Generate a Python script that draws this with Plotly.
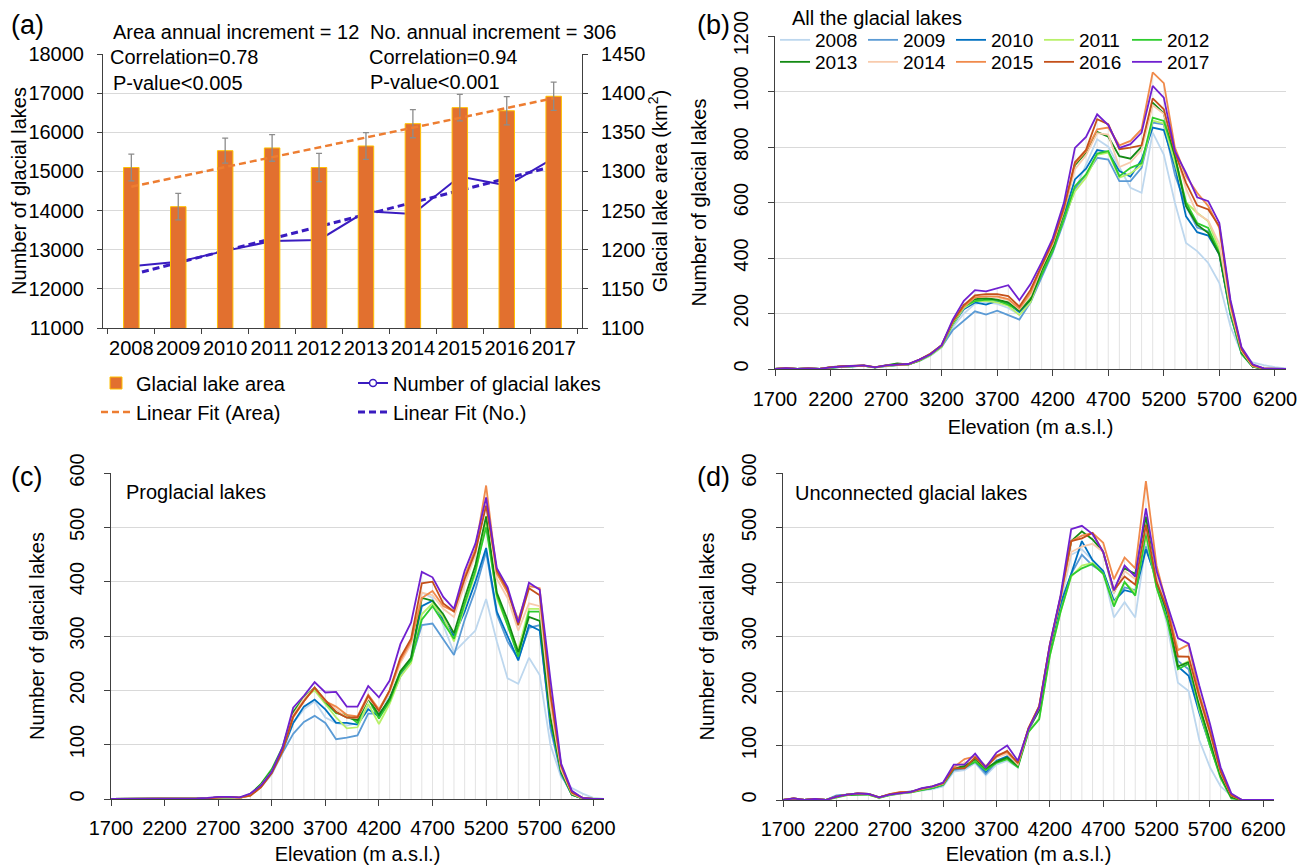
import numpy as np
import plotly.graph_objects as go

# ---------------- Panel (a) data ----------------
years = ['2008', '2009', '2010', '2011', '2012', '2013', '2014', '2015', '2016', '2017']
area_km2 = [1305, 1255, 1326.5, 1330, 1305, 1332.5, 1361, 1381.5, 1377.5, 1396]
area_err = [17, 17, 16, 17, 18, 17, 18, 17, 18, 18]
lake_count = [12580, 12690, 12970, 13220, 13250, 13980, 13910, 14870, 14640, 15340]

# ---------------- Elevation bins ----------------
elev = [1700, 1800, 1900, 2000, 2100, 2200, 2300, 2400, 2500, 2600, 2700, 2800, 2900,
        3000, 3100, 3200, 3300, 3400, 3500, 3600, 3700, 3800, 3900, 4000, 4100, 4200,
        4300, 4400, 4500, 4600, 4700, 4800, 4900, 5000, 5100, 5200, 5300, 5400, 5500,
        5600, 5700, 5800, 5900, 6000, 6100, 6200, 6300]
elev_ticks = [1700, 2200, 2700, 3200, 3700, 4200, 4700, 5200, 5700, 6200]

# ---------------- Panel (b): all glacial lakes ----------------
all_2008 = [0,2,0,1,0,8,10,10,11,7,10,14,18, 28,48,78,150,200,235,240,235,220,195,238,340,425,540,645,735,828,801,725,653,635,852,773,599,454,425,382,310,153,57,24,14,7,2]
all_2009 = [0,3,0,2,0,6,9,10,12,6,11,15,17, 30,50,80,140,175,208,196,210,194,178,240,330,420,530,650,700,761,755,677,677,725,888,882,700,587,510,496,418,200,60,10,2,0,0]
all_2010 = [0,2,0,2,0,5,8,10,12,6,12,14,16, 32,52,82,160,215,240,232,245,235,205,245,345,430,550,683,722,789,782,713,693,755,870,861,731,550,493,481,412,195,55,8,1,0,0]
all_2011 = [0,3,0,1,0,6,9,11,12,6,12,15,17, 30,50,80,160,220,245,245,240,228,195,240,345,430,540,640,690,772,780,690,705,735,895,885,740,600,563,532,430,205,60,10,1,0,0]
all_2012 = [0,2,0,2,0,5,8,10,11,5,11,14,16, 30,52,82,165,225,245,250,248,232,212,255,340,425,540,659,701,776,785,695,725,741,906,894,767,600,526,508,418,200,55,8,1,0,0]
all_2013 = [0,3,0,2,0,6,9,10,12,6,12,20,17, 32,55,85,168,230,252,255,250,240,210,250,355,440,565,735,780,854,837,767,758,801,960,922,767,587,520,490,412,210,60,8,1,0,0]
all_2014 = [0,3,0,2,0,6,9,10,12,6,12,15,17, 33,55,85,170,225,258,262,258,248,215,265,365,450,570,720,770,850,845,728,745,790,950,920,790,650,560,535,450,215,65,10,2,0,0]
all_2015 = [0,3,0,2,0,6,9,10,12,6,12,15,17, 33,55,85,170,225,258,262,262,252,218,275,370,455,575,740,785,864,870,806,822,864,1069,1030,798,695,635,587,508,230,70,12,2,0,0]
all_2016 = [0,3,0,2,0,7,10,11,13,7,13,16,18, 34,55,86,172,230,265,270,270,263,225,285,375,460,580,745,790,900,882,792,798,806,975,936,780,671,590,575,514,240,72,14,2,0,0]
all_2017 = [0,3,0,2,0,6,9,11,13,6,13,16,18, 34,53,86,178,246,284,280,290,302,248,306,384,471,598,797,836,918,879,797,810,852,1020,978,785,707,619,605,526,249,78,17,2,0,0]

# ---------------- Panel (c): proglacial lakes ----------------
pro_2008 = [0,0,0,0,0,0,0,0,0,1,3,3,2, 6,22,45,85,140,165,180,150,140,135,140,170,165,190,230,260,380,370,320,270,290,310,368,290,222,212,260,228,100,40,20,10,2,0]
pro_2009 = [0,0,0,0,0,0,0,0,0,1,2,3,2, 8,25,48,85,120,142,153,140,110,113,117,157,157,180,225,255,320,323,295,265,330,385,455,340,290,258,315,320,130,45,8,1,0,0]
pro_2010 = [0,0,0,0,0,0,0,0,0,1,3,3,2, 8,26,50,90,140,170,183,165,140,140,137,165,152,185,230,258,355,365,330,300,345,400,462,345,300,255,320,310,140,48,8,1,0,0]
pro_2011 = [0,0,0,0,0,0,0,0,0,1,2,2,2, 8,27,52,92,155,185,200,175,150,130,132,175,138,175,225,250,340,360,335,290,355,415,510,370,320,275,350,350,150,50,8,1,0,0]
pro_2012 = [0,0,0,0,0,0,0,0,0,1,3,3,2, 9,28,55,95,160,188,205,178,158,155,140,185,148,180,232,255,330,355,325,295,360,420,500,375,320,262,345,345,150,50,8,1,0,0]
pro_2013 = [0,0,0,0,0,0,0,0,0,1,3,3,2, 8,27,52,92,160,185,205,180,160,150,145,185,155,185,235,260,370,365,340,305,370,430,520,380,330,270,335,328,150,50,8,1,0,0]
pro_2014 = [0,0,0,0,0,0,0,0,0,1,3,3,2, 7,25,50,90,155,185,205,180,165,150,150,185,165,195,250,285,380,375,350,335,395,450,550,405,370,310,360,355,170,55,10,1,0,0]
pro_2015 = [0,0,0,0,0,0,0,0,0,1,3,4,2, 6,22,48,88,150,180,205,180,170,155,152,192,165,200,255,290,370,383,355,345,410,460,577,415,380,330,392,388,190,60,12,2,0,0]
pro_2016 = [0,0,0,0,0,0,0,0,0,1,3,4,3, 6,22,48,88,152,180,205,182,160,150,150,190,162,200,260,295,397,400,360,345,405,455,540,420,385,320,388,375,195,62,12,2,0,0]
pro_2017 = [0,0,0,0,0,0,0,0,1,2,4,4,3, 10,25,50,95,168,190,215,196,197,170,170,208,187,218,285,325,418,408,372,350,420,470,555,425,390,325,398,385,220,65,15,2,0,0]

# ---------------- Panel (d): unconnected glacial lakes ----------------
unc_2008 = [0,2,0,2,0,9,10,11,10,4,9,12,14, 18,20,25,52,55,68,45,65,72,60,125,170,280,360,450,460,440,420,335,363,335,470,400,320,215,200,110,60,25,8,0,0,0,0]
unc_2009 = [0,3,0,2,0,8,10,12,11,5,10,13,15, 18,22,27,55,58,70,48,70,78,62,128,165,270,355,415,450,430,418,365,390,385,465,400,335,255,240,165,100,45,8,0,0,0,0]
unc_2010 = [0,2,0,2,0,7,10,11,11,5,10,13,15, 19,22,28,57,60,72,52,72,80,63,130,168,275,360,415,475,440,420,365,385,380,460,405,340,245,228,160,100,45,8,0,0,0,0]
unc_2011 = [0,2,0,1,0,6,9,11,10,4,9,12,14, 19,23,28,58,62,72,55,70,75,63,125,150,265,345,410,430,435,415,360,400,380,485,390,330,245,255,165,100,42,5,0,0,0,0]
unc_2012 = [0,2,0,1,0,5,9,10,10,4,9,12,14, 18,22,28,58,60,70,55,68,75,60,125,148,265,345,412,425,433,415,355,400,375,490,390,330,240,250,170,100,40,3,0,0,0,0]
unc_2013 = [0,3,0,2,0,6,10,11,11,5,10,13,15, 20,24,30,58,62,75,58,70,78,63,130,165,280,370,475,493,478,455,380,425,415,520,400,345,245,253,175,110,45,5,0,0,0,0]
unc_2014 = [0,3,0,2,0,6,10,12,11,5,10,13,15, 20,24,30,60,68,78,60,78,85,65,130,170,283,370,455,465,470,455,380,420,405,500,410,350,265,262,185,120,50,8,0,0,0,0]
unc_2015 = [0,3,0,2,0,6,10,12,11,5,11,15,15, 21,25,31,60,75,80,62,82,88,68,132,172,285,372,475,485,490,472,405,445,425,585,430,355,275,285,195,130,55,10,0,0,0,0]
unc_2016 = [0,3,0,2,0,6,10,12,11,5,11,14,15, 21,25,31,58,58,78,60,80,90,68,132,172,285,372,475,480,490,455,385,410,395,505,400,350,263,263,190,125,52,8,0,0,0,0]
unc_2017 = [0,3,0,2,0,6,10,12,11,5,10,13,15, 22,25,32,65,65,85,60,87,100,72,130,170,285,375,497,503,488,455,385,430,410,535,420,360,297,287,210,140,60,12,0,0,0,0]

year_colors = ['#BDD7EE', '#5B9BD5', '#0070C0', '#B8F06A', '#2ECC2E',
               '#138A13', '#F8CBAD', '#F08A4B', '#C4501A', '#7020D0']

all_series = [all_2008, all_2009, all_2010, all_2011, all_2012,
              all_2013, all_2014, all_2015, all_2016, all_2017]
pro_series = [pro_2008, pro_2009, pro_2010, pro_2011, pro_2012,
              pro_2013, pro_2014, pro_2015, pro_2016, pro_2017]
unc_series = [unc_2008, unc_2009, unc_2010, unc_2011, unc_2012,
              unc_2013, unc_2014, unc_2015, unc_2016, unc_2017]

FONT = 'Liberation Sans, Arial, sans-serif'
FS = 20
OFF = 8                      # page body margin
W, H = 1309 - OFF, 865 - OFF


def px_x(p):
    return (p - OFF) / W


def px_y(p):
    return 1 - (p - OFF) / H


fig = go.Figure()

# ---------------- Panel (a) traces ----------------
fig.add_trace(go.Bar(
    x=years, y=area_km2, xaxis='x', yaxis='y2', width=0.33,
    marker=dict(color='#E2702F', line=dict(color='#FFC000', width=1)),
    error_y=dict(type='data', array=area_err, color='#8C8C8C', thickness=1.3, width=3),
    name='Glacial lake area', legend='legend'))

fig.add_trace(go.Scatter(
    x=years, y=lake_count, xaxis='x', yaxis='y', mode='lines+markers',
    line=dict(color='#3A1CC0', width=2),
    marker=dict(color='white', size=7, line=dict(color='#3A1CC0', width=1.5)),
    name='Number of glacial lakes', legend='legend'))

yr_num = np.array([int(y) for y in years], dtype=float)
a_fit = np.polyval(np.polyfit(yr_num, area_km2, 1), yr_num)
n_fit = np.polyval(np.polyfit(yr_num, lake_count, 1), yr_num)

fig.add_trace(go.Scatter(
    x=years, y=a_fit, xaxis='x', yaxis='y2', mode='lines',
    line=dict(color='#ED7D31', width=2.5, dash='7px,4px'),
    name='Linear Fit (Area)', legend='legend2'))
fig.add_trace(go.Scatter(
    x=years, y=n_fit, xaxis='x', yaxis='y', mode='lines',
    line=dict(color='#3A1CC0', width=3, dash='7px,4px'),
    name='Linear Fit (No.)', legend='legend2'))


# ---------------- Panels (b), (c), (d) ----------------
def add_elev_panel(series_list, xa, ya, with_legend):
    mx = np.max(np.array(series_list), axis=0)
    dx, dy = [], []
    for e, m in zip(elev, mx):
        dx += [e, e, None]
        dy += [0, m, None]
    fig.add_trace(go.Scatter(x=dx, y=dy, xaxis=xa, yaxis=ya, mode='lines',
                             line=dict(color='#E3E3E3', width=1),
                             showlegend=False, hoverinfo='skip'))
    for i, (yr, col, s) in enumerate(zip(years, year_colors, series_list)):
        leg = 'legend3' if i < 5 else 'legend4'
        fig.add_trace(go.Scatter(x=elev, y=s, xaxis=xa, yaxis=ya, mode='lines',
                                 line=dict(color=col, width=1.8),
                                 name=yr, legend=leg, showlegend=with_legend))


add_elev_panel(all_series, 'x2', 'y3', True)
add_elev_panel(pro_series, 'x3', 'y4', False)
add_elev_panel(unc_series, 'x4', 'y5', False)

AX = '#404040'
GRID = '#D9D9D9'
tickfont = dict(family=FONT, size=FS, color='black')
titlefont = dict(family=FONT, size=FS, color='black')

common_y = dict(showline=True, linecolor=AX, linewidth=1, ticks='outside', ticklen=6,
                tickcolor=AX, showgrid=True, gridcolor=GRID, gridwidth=1,
                zeroline=False, tickfont=tickfont, automargin=False, tickformat='d')
common_x = dict(showline=True, linecolor=AX, linewidth=1, ticks='outside', ticklen=6,
                tickcolor=AX, showgrid=False, zeroline=False, tickfont=tickfont,
                automargin=False, tickangle=0)

leg_common = dict(xanchor='left', yanchor='middle', orientation='h',
                  entrywidthmode='pixels', font=dict(family=FONT, size=FS, color='black'),
                  bgcolor='rgba(0,0,0,0)', itemwidth=30, tracegroupgap=0,
                  borderwidth=0)
leg_years = dict(leg_common, font=dict(family=FONT, size=19, color='black'), entrywidth=43)

layout = dict(
    width=W, height=H, autosize=False,
    margin=dict(l=0, r=0, t=0, b=0, autoexpand=False),
    paper_bgcolor='white', plot_bgcolor='white',
    font=dict(family=FONT, size=FS, color='black'),
    barmode='overlay',
    # panel (a)
    xaxis=dict(common_x, domain=[px_x(103), px_x(582)], anchor='y', type='category',
               tickson='boundaries', ticklen=5, ticklabelstandoff=2),
    yaxis=dict(common_y, domain=[px_y(328), px_y(54)], anchor='x', range=[11000, 18000],
               dtick=1000, ticklen=5, ticklabelstandoff=9,
               title=dict(text='Number of glacial lakes', font=titlefont, standoff=4)),
    yaxis2=dict(common_y, overlaying='y', side='right', anchor='x', range=[1100, 1450],
                dtick=50, showgrid=False, ticklen=5, ticklabelstandoff=9,
                title=dict(text='Glacial lake area (km<sup>2</sup>)', font=titlefont, standoff=5)),
    # panel (b)
    xaxis2=dict(common_x, domain=[px_x(775), px_x(1286)], anchor='y3', range=[1700, 6300],
                tickvals=elev_ticks, ticklabelstandoff=6,
                title=dict(text='Elevation (m a.s.l.)', font=titlefont, standoff=10)),
    yaxis3=dict(common_y, domain=[px_y(369), px_y(36)], anchor='x2', range=[0, 1200],
                dtick=200, tickangle=-90, ticklabelstandoff=12,
                title=dict(text='Number of glacial lakes', font=titlefont, standoff=18)),
    # panel (c)
    xaxis3=dict(common_x, domain=[px_x(111), px_x(604)], anchor='y4', range=[1700, 6300],
                tickvals=elev_ticks, ticklabelstandoff=5,
                title=dict(text='Elevation (m a.s.l.)', font=titlefont, standoff=9)),
    yaxis4=dict(common_y, domain=[px_y(799), px_y(473)], anchor='x3', range=[0, 600],
                dtick=100, tickangle=-90, ticklabelstandoff=12,
                title=dict(text='Number of glacial lakes', font=titlefont, standoff=16)),
    # panel (d)
    xaxis4=dict(common_x, domain=[px_x(783), px_x(1274)], anchor='y5', range=[1700, 6300],
                tickvals=elev_ticks, ticklabelstandoff=5,
                title=dict(text='Elevation (m a.s.l.)', font=titlefont, standoff=9)),
    yaxis5=dict(common_y, domain=[px_y(800), px_y(473)], anchor='x4', range=[0, 600],
                dtick=100, tickangle=-90, ticklabelstandoff=12,
                title=dict(text='Number of glacial lakes', font=titlefont, standoff=18)),
    legend=dict(leg_common, x=px_x(96), y=px_y(383), entrywidth=212),
    legend2=dict(leg_common, x=px_x(96), y=px_y(412), entrywidth=212),
    legend3=dict(leg_years, x=px_x(775), y=px_y(40)),
    legend4=dict(leg_years, x=px_x(775), y=px_y(62)),
)
fig.update_layout(**layout)


def note(text, x, y, size=FS, anchor='left'):
    fig.add_annotation(text=text, x=px_x(x), y=px_y(y), xref='paper', yref='paper',
                       xanchor=anchor, yanchor='middle', showarrow=False,
                       font=dict(family=FONT, size=size, color='black'))


note('(a)', 9, 25, 27)
note('(b)', 695, 25, 27)
note('(c)', 9, 477, 27)
note('(d)', 695, 477, 27)
note('Area annual increment = 12', 111, 32)
note('No. annual increment = 306', 368, 32)
note('Correlation=0.78', 108, 57)
note('P-value&lt;0.005', 111, 83)
note('Correlation=0.94', 367, 57)
note('P-value&lt;0.001', 368, 82)
note('All the glacial lakes', 790, 18)
note('Proglacial lakes', 124, 492)
note('Unconnected glacial lakes', 793, 493)

fig.write_html('out.html')
